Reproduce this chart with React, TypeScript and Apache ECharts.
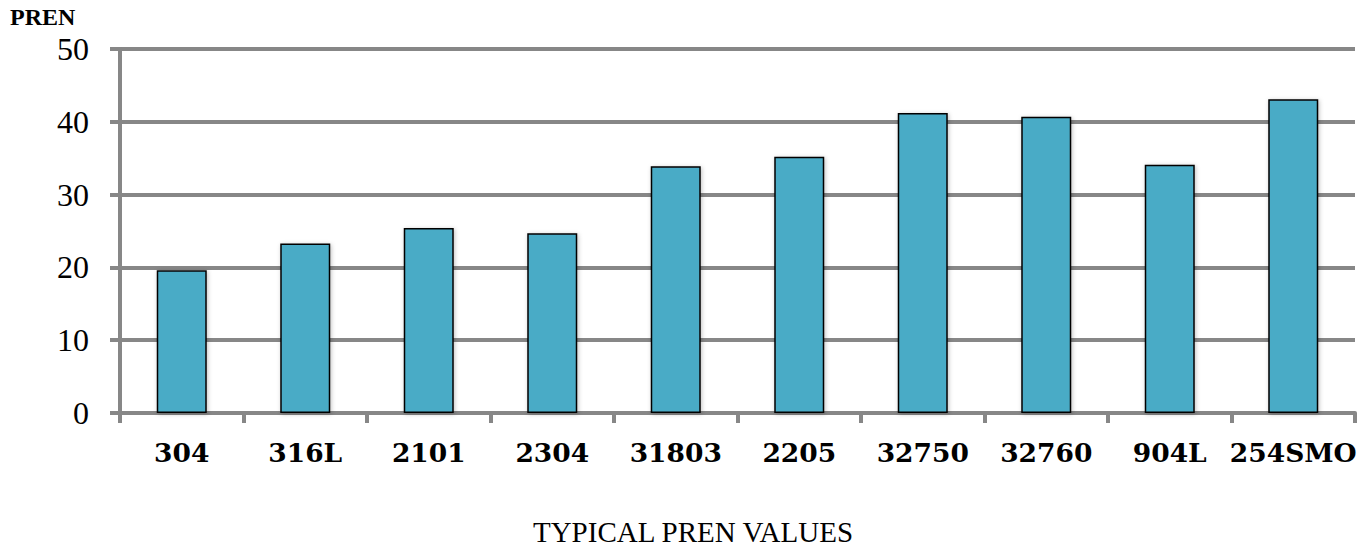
import React, { useEffect, useRef } from "react";
import * as echarts from "echarts";

const categories = ["304", "316L", "2101", "2304", "31803", "2205", "32750", "32760", "904L", "254SMO"];
const prenValues = [19.6, 23.3, 25.4, 24.7, 33.9, 35.2, 41.2, 40.7, 34.1, 43.1];
const yTicks = { min: 0, max: 50, interval: 10 };
const yAxisTitle = "PREN";
const xAxisTitle = "TYPICAL PREN VALUES";

export default function App() {
  const ref = useRef<HTMLDivElement>(null);
  useEffect(() => {
    if (!ref.current) return;
    document.body.style.margin = "0";
    const chart = echarts.init(ref.current, null, { renderer: "svg" });
    const gray = "#878787";
    chart.setOption({
      animation: false,
      backgroundColor: "#ffffff",
      grid: { left: 120, right: 13, top: 49, bottom: 137 },
      graphic: [
        {
          type: "text",
          x: 10,
          y: 17,
          style: {
            text: yAxisTitle,
            fontFamily: "Liberation Serif",
            fontWeight: "bold",
            fontSize: 24,
            fill: "#000",
            textVerticalAlign: "middle",
          },
        },
        {
          type: "text",
          x: 693,
          y: 532,
          style: {
            text: xAxisTitle,
            fontFamily: "Liberation Serif",
            fontSize: 29,
            fill: "#000",
            textAlign: "center",
            textVerticalAlign: "middle",
          },
        },
      ],
      xAxis: {
        type: "category",
        data: categories,
        boundaryGap: true,
        axisLine: { show: true, lineStyle: { color: gray, width: 4 } },
        axisTick: { show: true, length: 10, alignWithLabel: false, lineStyle: { color: gray, width: 4 } },
        axisLabel: {
          margin: 26,
          color: "#000",
          fontFamily: "DejaVu Serif",
          fontWeight: "bold",
          fontSize: 26.5,
          interval: 0,
        },
      },
      yAxis: {
        type: "value",
        min: yTicks.min,
        max: yTicks.max,
        interval: yTicks.interval,
        axisLine: { show: true, lineStyle: { color: gray, width: 4 } },
        axisTick: { show: true, length: 10, lineStyle: { color: gray, width: 4 } },
        splitLine: { show: true, lineStyle: { color: gray, width: 4 } },
        axisLabel: {
          margin: 31,
          color: "#000",
          fontFamily: "Liberation Serif",
          fontSize: 32,
        },
      },
      series: [
        {
          type: "bar",
          data: prenValues,
          barWidth: 50,
          itemStyle: {
            color: "#4aabc6",
            borderColor: "#000",
            borderWidth: 1.5,
            shadowColor: "rgba(0,0,0,0.25)",
            shadowBlur: 4,
            shadowOffsetX: 1,
            shadowOffsetY: 1,
          },
        },
      ],
    });
    return () => chart.dispose();
  }, []);
  return <div ref={ref} style={{ width: 1368, height: 550 }} />;
}
